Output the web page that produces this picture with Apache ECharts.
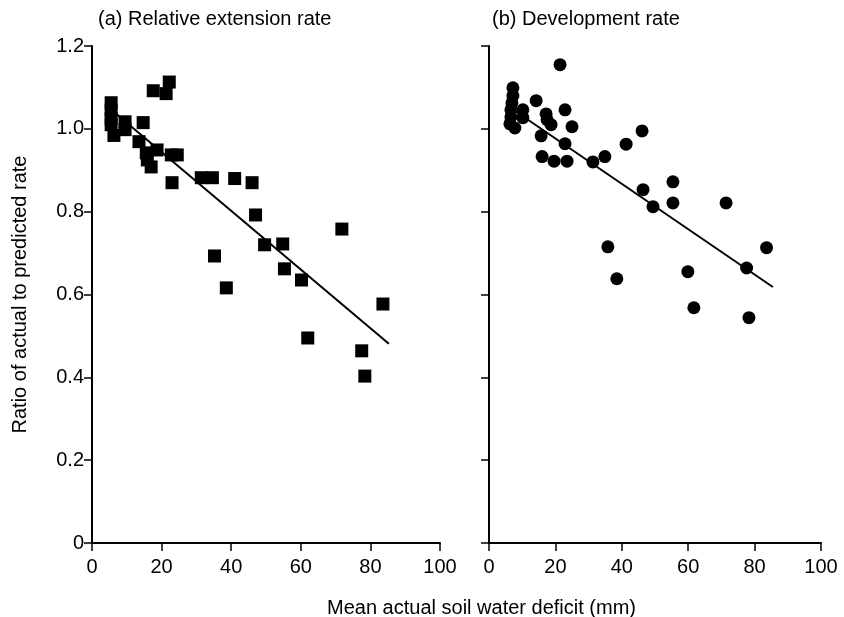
<!DOCTYPE html>
<html>
<head>
<meta charset="utf-8">
<script src="https://cdn.jsdelivr.net/npm/echarts@6/dist/echarts.min.js"></script>
<style>
  html, body { margin: 0; padding: 0; background: #fff; }
  #chart { width: 844px; height: 617px; }
</style>
</head>
<body>
<div id="chart"></div>
<script>
// (a) relative extension rate: [deficit mm, ratio]
var extPoints = [
  [5.5, 1.063], [5.5, 1.045], [5.5, 1.025], [5.5, 1.01], [6.3, 0.984],
  [9.5, 1.017], [9.5, 0.998], [14.7, 1.015], [17.6, 1.092], [21.3, 1.085],
  [22.2, 1.113], [13.5, 0.969], [15.6, 0.942], [15.9, 0.925], [17.0, 0.908],
  [18.7, 0.949], [22.8, 0.937], [24.5, 0.937], [23.0, 0.870], [31.4, 0.882],
  [34.6, 0.882], [41.0, 0.880], [46.0, 0.870], [47.0, 0.792], [35.2, 0.693],
  [38.6, 0.616], [49.6, 0.720], [54.8, 0.722], [55.3, 0.662], [60.2, 0.635],
  [62.0, 0.495], [71.8, 0.758], [83.6, 0.577], [77.5, 0.464], [78.4, 0.403]
];
var extLine = [[7, 1.036], [85.3, 0.481]];

// (b) development rate
var devPoints = [
  [7.2, 1.099], [7.2, 1.080], [6.9, 1.063], [6.6, 1.046], [6.6, 1.029],
  [6.3, 1.012], [7.8, 1.002], [10.2, 1.046], [10.2, 1.027], [14.2, 1.068],
  [17.2, 1.036], [17.5, 1.022], [18.7, 1.010], [15.7, 0.983], [21.4, 1.155],
  [22.9, 1.046], [25.0, 1.005], [22.9, 0.964], [16.0, 0.933], [19.6, 0.922],
  [23.5, 0.922], [31.3, 0.920], [34.9, 0.933], [41.3, 0.963], [46.1, 0.995],
  [46.4, 0.853], [49.4, 0.812], [55.4, 0.872], [55.4, 0.821], [71.4, 0.821],
  [35.8, 0.715], [38.5, 0.638], [59.9, 0.655], [61.7, 0.568], [77.6, 0.664],
  [83.6, 0.713], [78.3, 0.544]
];
var devLine = [[7, 1.048], [85.5, 0.618]];

var xTicks = [0, 20, 40, 60, 80, 100];
var yTicks = [0, 0.2, 0.4, 0.6, 0.8, 1.0, 1.2];

var font = 'Liberation Sans, Arial, sans-serif';
var ink = '#000';

function xAxisFor(idx) {
  return {
    gridIndex: idx, type: 'value', min: xTicks[0], max: xTicks[xTicks.length - 1], interval: 20,
    axisLine: { lineStyle: { color: ink, width: 2 } },
    axisTick: { length: 8, lineStyle: { color: ink, width: 1.5 } },
    axisLabel: { color: ink, fontFamily: font, fontSize: 20, margin: 14 },
    splitLine: { show: false }
  };
}
function yAxisFor(idx, showLabels) {
  return {
    gridIndex: idx, type: 'value', min: yTicks[0], max: yTicks[yTicks.length - 1], interval: 0.2,
    name: showLabels ? 'Ratio of actual to predicted rate' : '',
    nameLocation: 'middle', nameGap: 62,
    nameTextStyle: { color: ink, fontFamily: font, fontSize: 20 },
    axisLine: { show: true, lineStyle: { color: ink, width: 2 } },
    axisTick: { show: true, length: 8, lineStyle: { color: ink, width: 1.5 } },
    axisLabel: {
      show: showLabels, color: ink, fontFamily: font, fontSize: 20, margin: 8,
      formatter: function (v) { return v === 0 ? '0' : v.toFixed(1); }
    },
    splitLine: { show: false }
  };
}

var myChart = echarts.init(document.getElementById('chart'));
var option = {
  backgroundColor: '#fff',
  animation: false,
  title: [
    { text: '(a) Relative extension rate', left: 93, top: 4,
      textStyle: { color: ink, fontFamily: font, fontSize: 20, fontWeight: 'normal' } },
    { text: '(b) Development rate', left: 487, top: 4,
      textStyle: { color: ink, fontFamily: font, fontSize: 20, fontWeight: 'normal' } },
    { text: 'Mean actual soil water deficit (mm)', left: 322, top: 593,
      textStyle: { color: ink, fontFamily: font, fontSize: 20, fontWeight: 'normal' } }
  ],
  grid: [
    { left: 92, top: 46, width: 348, height: 497 },
    { left: 489, top: 46, width: 332, height: 497 }
  ],
  xAxis: [xAxisFor(0), xAxisFor(1)],
  yAxis: [yAxisFor(0, true), yAxisFor(1, false)],
  series: [
    { type: 'line', xAxisIndex: 0, yAxisIndex: 0, data: extLine, symbol: 'none',
      lineStyle: { color: ink, width: 2 }, z: 1 },
    { type: 'scatter', xAxisIndex: 0, yAxisIndex: 0, data: extPoints,
      symbol: 'rect', symbolSize: 13, itemStyle: { color: ink, opacity: 1 }, z: 2 },
    { type: 'line', xAxisIndex: 1, yAxisIndex: 1, data: devLine, symbol: 'none',
      lineStyle: { color: ink, width: 2 }, z: 1 },
    { type: 'scatter', xAxisIndex: 1, yAxisIndex: 1, data: devPoints,
      symbol: 'circle', symbolSize: 13, itemStyle: { color: ink, opacity: 1 }, z: 2 }
  ]
};
myChart.setOption(option);
</script>
</body>
</html>
